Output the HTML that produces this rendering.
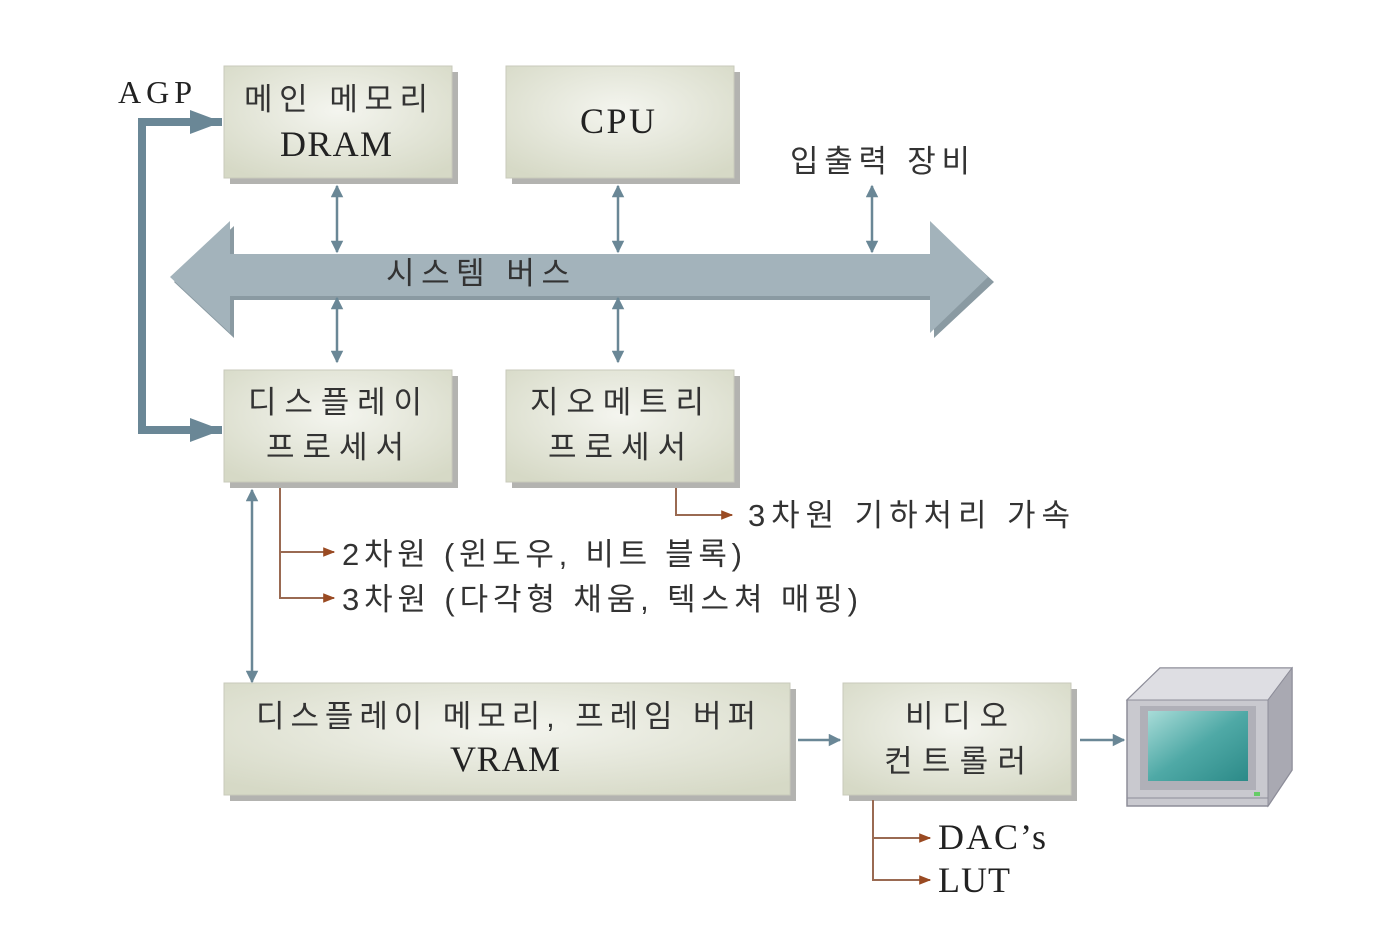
<!DOCTYPE html>
<html><head><meta charset="utf-8"><style>
html,body{margin:0;padding:0;background:#fff;}
svg{display:block;}
.k{font-family:"Liberation Sans","Noto Sans CJK KR","NanumGothic",sans-serif;font-size:31px;fill:#333;}
.s{font-family:"Liberation Serif","Noto Serif CJK SC",serif;font-size:36px;fill:#222;}
</style></head><body>
<svg width="1396" height="928" viewBox="0 0 1396 928" xmlns="http://www.w3.org/2000/svg">
<defs>
<radialGradient id="bg" cx="0.5" cy="0.4" r="0.7">
<stop offset="0" stop-color="#f4f5ef"/><stop offset="1" stop-color="#d6d9c6"/>
</radialGradient>
<linearGradient id="scr" x1="0" y1="0" x2="1" y2="1">
<stop offset="0" stop-color="#a8dcd8"/><stop offset="0.5" stop-color="#4fa9a6"/><stop offset="1" stop-color="#2c8a88"/>
</linearGradient>
<marker id="bh" viewBox="0 0 10 10" refX="9" refY="5" markerWidth="5.5" markerHeight="5" orient="auto-start-reverse"><path d="M0,0L10,5L0,10z" fill="#6a8796"/></marker>
<marker id="rh" viewBox="0 0 10 10" refX="9" refY="5" markerWidth="7" markerHeight="6" orient="auto"><path d="M0,1L10,5L0,9z" fill="#9a4a22"/></marker>
</defs>

<g fill="#b3b3b0">
<rect x="230" y="72" width="228" height="112"/>
<rect x="512" y="72" width="228" height="112"/>
<rect x="230" y="376" width="228" height="112"/>
<rect x="512" y="376" width="228" height="112"/>
<rect x="230" y="689" width="566" height="112"/>
<rect x="849" y="689" width="228" height="112"/>
</g>
<g fill="url(#bg)" stroke="#c8cabb" stroke-width="1">
<rect x="224" y="66" width="228" height="112"/>
<rect x="506" y="66" width="228" height="112"/>
<rect x="224" y="370" width="228" height="112"/>
<rect x="506" y="370" width="228" height="112"/>
<rect x="224" y="683" width="566" height="112"/>
<rect x="843" y="683" width="228" height="112"/>
</g>

<path d="M174,282 L234,226 L234,258 L934,258 L934,226 L994,282 L934,338 L934,300 L234,300 L234,338 Z" fill="#8a9aa2"/>
<path d="M170,277 L230,221 L230,254 L930,254 L930,221 L988,277 L930,333 L930,296 L230,296 L230,333 Z" fill="#a3b3bb"/>

<path d="M222,122 L142,122 L142,430 L222,430" fill="none" stroke="#6a8796" stroke-width="8"/>
<path d="M190,110 L222,122 L190,134 Z" fill="#6a8796"/>
<path d="M190,418 L222,430 L190,442 Z" fill="#6a8796"/>

<g stroke="#6a8796" stroke-width="2.5" fill="none">
<line x1="337" y1="186" x2="337" y2="252" marker-start="url(#bh)" marker-end="url(#bh)"/>
<line x1="618" y1="186" x2="618" y2="252" marker-start="url(#bh)" marker-end="url(#bh)"/>
<line x1="872" y1="186" x2="872" y2="252" marker-start="url(#bh)" marker-end="url(#bh)"/>
<line x1="337" y1="298" x2="337" y2="362" marker-start="url(#bh)" marker-end="url(#bh)"/>
<line x1="618" y1="298" x2="618" y2="362" marker-start="url(#bh)" marker-end="url(#bh)"/>
<line x1="252" y1="490" x2="252" y2="682" marker-start="url(#bh)" marker-end="url(#bh)"/>
<line x1="798" y1="740" x2="840" y2="740" marker-end="url(#bh)"/>
<line x1="1080" y1="740" x2="1124" y2="740" marker-end="url(#bh)"/>
</g>

<g stroke="#9a6a52" stroke-width="2" fill="none">
<path d="M280,488 L280,598 L334,598" marker-end="url(#rh)"/>
<path d="M280,552 L334,552" marker-end="url(#rh)"/>
<path d="M676,488 L676,515 L732,515" marker-end="url(#rh)"/>
<path d="M873,800 L873,880 L930,880" marker-end="url(#rh)"/>
<path d="M873,838 L930,838" marker-end="url(#rh)"/>
</g>

<path d="M1127,700 L1160,668 L1292,668 L1292,770 L1268,806 L1127,806 Z" fill="#c9c9cf" stroke="#8d8d99" stroke-width="1.5"/>
<path d="M1127,700 L1160,668 L1292,668 L1268,700 Z" fill="#dedee3" stroke="#8d8d99" stroke-width="1"/>
<path d="M1268,700 L1292,668 L1292,770 L1268,806 Z" fill="#a9a9b2" stroke="#8d8d99" stroke-width="1"/>
<rect x="1140" y="706" width="116" height="84" fill="#b0b0b8"/>
<rect x="1148" y="711" width="100" height="70" fill="url(#scr)"/>
<line x1="1127" y1="798" x2="1268" y2="798" stroke="#8d8d99"/>
<rect x="1254" y="792" width="6" height="4" fill="#6c6"/>

<text x="118" y="103" class="s" style="font-size:32px" textLength="74">AGP</text>
<text x="244" y="110" class="k" textLength="184">메인 메모리</text>
<text x="280" y="156" class="s" textLength="112">DRAM</text>
<text x="580" y="133" class="s" textLength="75">CPU</text>
<text x="790" y="172" class="k" textLength="180">입출력 장비</text>
<text x="386" y="284" class="k" textLength="184">시스템 버스</text>
<text x="248" y="413" class="k" textLength="174">디스플레이</text>
<text x="266" y="458" class="k" textLength="138">프로세서</text>
<text x="530" y="413" class="k" textLength="174">지오메트리</text>
<text x="548" y="458" class="k" textLength="138">프로세서</text>
<text x="748" y="526" class="k" textLength="322">3차원 기하처리 가속</text>
<text x="342" y="565" class="k" textLength="400">2차원 (윈도우, 비트 블록)</text>
<text x="342" y="610" class="k" textLength="516">3차원 (다각형 채움, 텍스쳐 매핑)</text>
<text x="256" y="727" class="k" textLength="500">디스플레이 메모리, 프레임 버퍼</text>
<text x="450" y="771" class="s" textLength="110">VRAM</text>
<text x="905" y="727" class="k" textLength="103">비디오</text>
<text x="884" y="772" class="k" textLength="142">컨트롤러</text>
<text x="938" y="849" class="s" textLength="108">DAC’s</text>
<text x="938" y="892" class="s" textLength="72">LUT</text>
</svg>
</body></html>
